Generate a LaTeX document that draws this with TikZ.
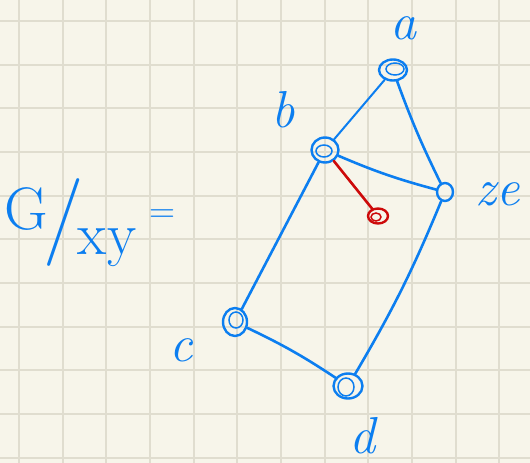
\documentclass[tikz,border=0pt]{standalone}
\usetikzlibrary{calc, positioning}
\usetikzlibrary{shapes.geometric}
\definecolor{paper}{RGB}{247,245,234}
\definecolor{gridline}{RGB}{224,221,207}
\definecolor{pen}{RGB}{12,126,240}
\definecolor{redpen}{RGB}{205,10,10}

\begin{document}
\begin{tikzpicture}[x=1pt, y=-1pt,
  vtx/.style={ellipse, draw=pen, line width=2.4pt, inner sep=0pt},
  edge/.style={draw=pen, line width=2.6pt, line cap=round},
  lab/.style={text=pen, font=\fontsize{52}{52}\selectfont\itshape, inner sep=0pt}]
\def\W{530}
\def\H{463}
\def\sq{43.67}

\useasboundingbox (0,0) rectangle (\W,\H);
\fill[paper] (0,0) rectangle (\W,\H);
\foreach \k in {0,...,11} {
  \draw[gridline, line width=2pt] ({19+\k*\sq},0) -- ({19+\k*\sq},\H);
  \draw[gridline, line width=2pt] (0,{21+\k*\sq}) -- (\W,{21+\k*\sq});
}

% vertices
\node[vtx, minimum width=28, minimum height=21] (a) at (393,70) {};
\node[vtx, minimum width=27, minimum height=25] (b) at (325,150) {};
\node[vtx, minimum width=16, minimum height=18] (ze) at (445,192) {};
\node[vtx, minimum width=24, minimum height=28] (c) at (235,322) {};
\node[vtx, minimum width=29, minimum height=25] (d) at (348,386) {};
\node[vtx, draw=redpen, minimum width=20, minimum height=15] (r) at (378,216) {};

% scribbled inner rings
\draw[pen, line width=1.5pt] ($(a)+(2,-1)$) ellipse (9 and 6);
\draw[pen, line width=1.5pt] ($(b)+(-1,1)$) ellipse (8 and 6);
\draw[pen, line width=1.5pt] ($(c)+(1,-2)$) ellipse (7 and 8);
\draw[pen, line width=1.5pt] ($(d)+(-2,1)$) ellipse (8 and 9);
\draw[redpen, line width=1.5pt] ($(r)+(-2,1)$) ellipse (5 and 4);

% edges
\draw[edge, line width=2pt] (a) -- (b);
\draw[edge] (a) to[bend right=3] (ze);
\draw[edge] (b) to[bend right=4] (ze);
\draw[edge] (b) -- (c);
\draw[edge] (c) to[bend left=4] (d);
\draw[edge] (d) to[bend right=4] (ze);
\draw[edge, draw=redpen] (b) -- (r);

% labels
\node[lab] (la) at (403,28) {a};
\node[lab] (lb) at (283,110) {b};
\node[lab] (lze) at (498,194) {ze};
\node[lab] (lc) at (181,350) {c};
\node[lab] (ld) at (362,436) {d};

% quotient
\node[lab, font=\fontsize{60}{60}\selectfont] (G) at (26,209) {G};
\node[lab, font=\fontsize{88}{88}\selectfont] (sl) at (64,222) {/};
\node[lab, font=\fontsize{60}{60}\selectfont] (xy) at (107,248) {xy};
\node[lab, font=\fontsize{36}{36}\selectfont] (eq) at (162,216) {=};
\end{tikzpicture}
\end{document}
